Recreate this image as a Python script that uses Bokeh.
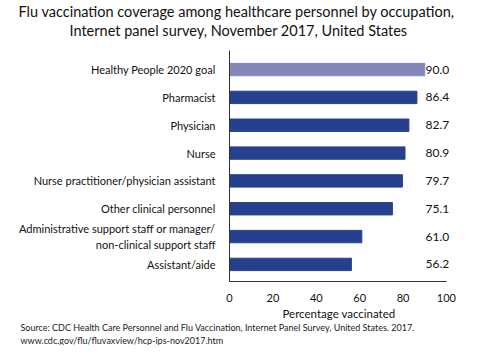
from bokeh.plotting import figure
from bokeh.models import ColumnDataSource, Title, Range1d, FixedTicker
from bokeh.embed import file_html
from bokeh.resources import INLINE

categories = [
    "Healthy People 2020 goal",
    "Pharmacist",
    "Physician",
    "Nurse",
    "Nurse practitioner/physician assistant",
    "Other clinical personnel",
    "Administrative support staff or manager/\nnon-clinical support staff",
    "Assistant/aide",
]
values = [90.0, 86.4, 82.7, 80.9, 79.7, 75.1, 61.0, 56.2]
x_ticks = [0, 20, 40, 60, 80, 100]

FONT = "Lato"
DARK = "#25408F"
LIGHT = "#8686BA"
colors = [LIGHT] + [DARK] * (len(values) - 1)
positions = list(range(len(categories)))

src = ColumnDataSource(dict(
    pos=positions,
    val=values,
    color=colors,
    label=["{:.1f}".format(v) for v in values],
    lx=[max(values) + 0.4] * len(values),
))

n = len(categories)
y_bottom = n - 1 + 0.614
p = figure(width=475, height=345,
           y_range=Range1d(start=y_bottom, end=-1.116),
           x_range=(0, 113.4),
           output_backend="svg", toolbar_location=None,
           min_border_left=229, min_border_right=0,
           min_border_top=0, min_border_bottom=0)

p.hbar(y="pos", right="val", left=0, height=0.445, color="color", source=src)
p.text(x="lx", y="pos", text="label", source=src, text_align="left",
       text_baseline="middle", text_font_size="12px", text_color="#111111",
       text_font={"value": FONT})

p.xgrid.visible = False
p.ygrid.visible = False
p.outline_line_color = None

p.xaxis.bounds = (0, 100)
p.xaxis.ticker = x_ticks
p.xaxis.major_label_text_font = FONT
p.xaxis.major_label_text_font_size = "11px"
p.xaxis.major_label_text_color = "#111111"
p.xaxis.major_label_standoff = 6
p.xaxis.major_tick_line_color = None
p.xaxis.minor_tick_line_color = None
p.xaxis.axis_line_color = "#333333"

p.yaxis.bounds = (-0.7, y_bottom)
p.yaxis.ticker = FixedTicker(ticks=positions)
p.yaxis.major_label_overrides = {i: c for i, c in zip(positions, categories)}
p.yaxis.major_label_text_font = FONT
p.yaxis.major_label_text_font_size = "11px"
p.yaxis.major_label_text_color = "#111111"
p.yaxis.major_label_standoff = 8
p.yaxis.major_tick_line_color = None
p.yaxis.minor_tick_line_color = None
p.yaxis.axis_line_color = "#333333"

title_lines = [
    "Flu vaccination coverage among healthcare personnel by occupation,",
    "Internet panel survey, November 2017, United States",
]
title_offsets = [-211, -160]
# closest to the plot first
for t, off in reversed(list(zip(title_lines, title_offsets))):
    p.add_layout(Title(text=t, align="left", offset=off, text_font=FONT,
                       text_font_size="14.5px", text_font_style="normal",
                       text_color="#111111", standoff=0), "above")

# x axis label, placed under the 0-100 span
p.add_layout(Title(text="Percentage vaccinated", align="left", offset=53,
                   text_font=FONT, text_font_size="11.5px",
                   text_font_style="normal", text_color="#111111",
                   standoff=0), "below")

source_lines = [
    "Source: CDC Health Care Personnel and Flu Vaccination, Internet Panel Survey, United States. 2017.",
    "www.cdc.gov/flu/fluvaxview/hcp-ips-nov2017.htm",
]
for t in source_lines:
    p.add_layout(Title(text=t, align="left", offset=-209, text_font=FONT,
                       text_font_size="9px", text_font_style="normal",
                       text_color="#222222", standoff=0), "below")

open("out.html", "w").write(file_html(p, INLINE))
